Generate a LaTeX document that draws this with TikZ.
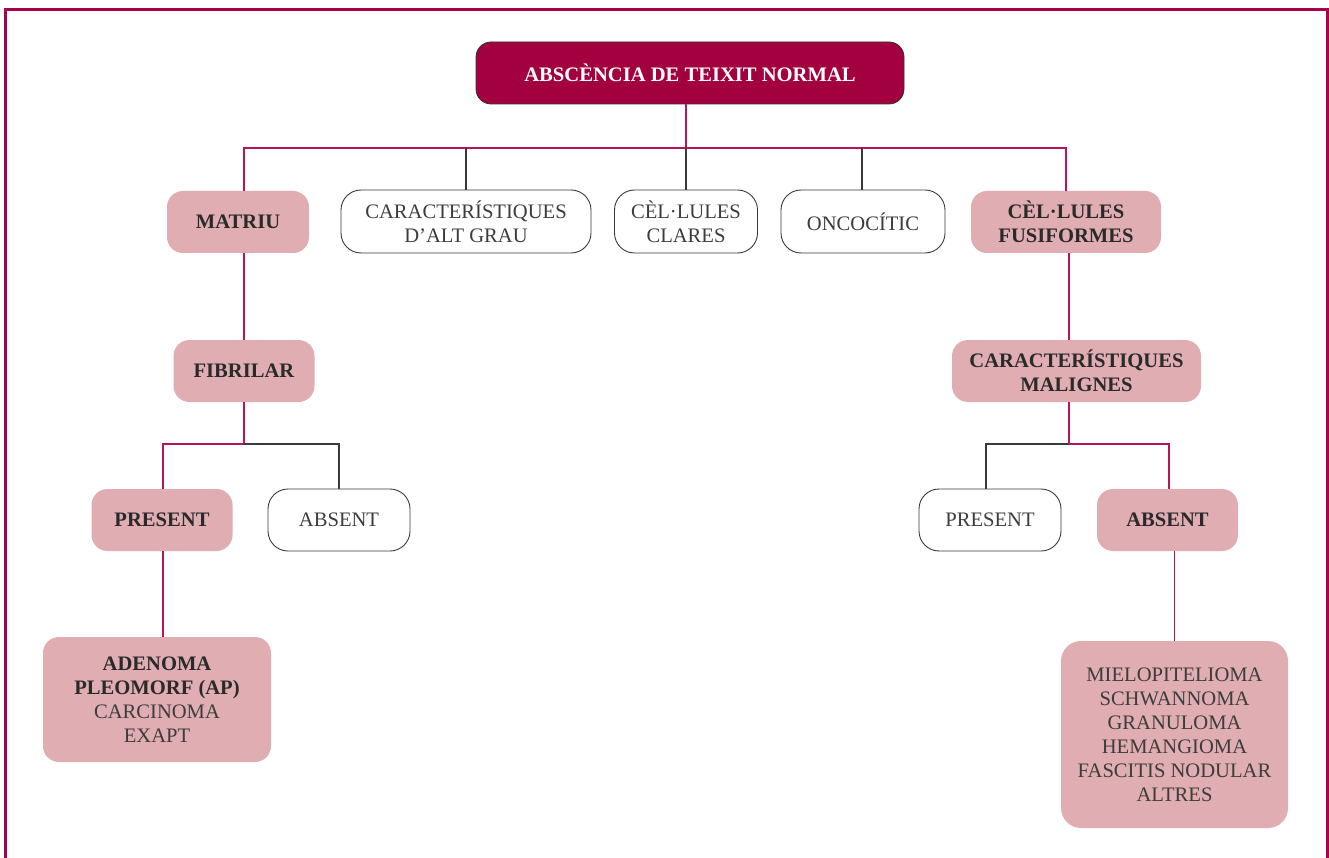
\documentclass[tikz,border=0pt]{standalone}
\usepackage{fontspec}
\setmainfont{Liberation Serif}
\definecolor{crimson}{HTML}{A3003F}
\definecolor{framec}{HTML}{A8004A}
\definecolor{rosefill}{HTML}{E0ADB2}
\definecolor{pinkline}{HTML}{B8145A}
\definecolor{greyline}{HTML}{3A3A3A}
\definecolor{txt}{HTML}{2A2A2A}
\definecolor{txtlight}{HTML}{3C3C3C}
\tikzset{
  base/.style={inner sep=0pt, align=center, font=\fontsize{20.6}{24}\selectfont},
  headbox/.style={base, rounded corners=15pt, fill=crimson, draw=black!80, line width=0.8pt, text=white, font=\fontsize{20.6}{24}\selectfont\bfseries},
  rosebox/.style={base, rounded corners=16pt, fill=rosefill, text=txt, font=\fontsize{20.6}{24}\selectfont\bfseries},
  listbox/.style={base, rounded corners=20pt, fill=rosefill, text=txtlight},
  whitebox/.style={base, rounded corners=20pt, fill=white, draw=greyline, line width=0.9pt, text=txtlight},
  pk/.style={draw=pinkline, line width=1.1pt},
  gy/.style={draw=greyline, line width=1.1pt},
}
\begin{document}
\begin{tikzpicture}[x=1pt,y=-1pt]
\useasboundingbox (0,0) rectangle (1329,858);
% frame
\draw[framec, line width=2.6pt] (5.5,860) -- (5.5,9.5) -- (1327.5,9.5) -- (1327.5,860);
% nodes
\node[headbox, minimum width=428, minimum height=62] (top) at (690,73) {ABSCÈNCIA DE TEIXIT NORMAL};
\node[rosebox, minimum width=142, minimum height=62] (matriu) at (238,222) {MATRIU};
\node[whitebox, minimum width=250, minimum height=63] (alt) at (466,221.5) {CARACTERÍSTIQUES\\D’ALT GRAU};
\node[whitebox, minimum width=143, minimum height=63] (clares) at (686,221.5) {CÈL·LULES\\CLARES};
\node[whitebox, minimum width=164, minimum height=63] (onco) at (863,221.5) {ONCOCÍTIC};
\node[rosebox, minimum width=190, minimum height=62] (fusi) at (1066,222) {CÈL·LULES\\FUSIFORMES};
\node[rosebox, minimum width=141, minimum height=62] (fibrilar) at (244,371) {FIBRILAR};
\node[rosebox, minimum width=249, minimum height=62] (malignes) at (1076.5,371) {CARACTERÍSTIQUES\\MALIGNES};
\node[rosebox, minimum width=141, minimum height=62] (presL) at (162,520) {PRESENT};
\node[whitebox, minimum width=142, minimum height=62] (absL) at (339,520) {ABSENT};
\node[whitebox, minimum width=142, minimum height=62] (presR) at (990,520) {PRESENT};
\node[rosebox, minimum width=141, minimum height=62] (absR) at (1167.5,520) {ABSENT};
\node[rosebox, minimum width=228, minimum height=125] (adenoma) at (157,699.5) {ADENOMA\\PLEOMORF (AP)\\\mdseries\color{txtlight}CARCINOMA\\\mdseries\color{txtlight}EXAPT};
\node[listbox, minimum width=227, minimum height=187] (list) at (1174.5,734.5) {MIELOPITELIOMA\\SCHWANNOMA\\GRANULOMA\\HEMANGIOMA\\FASCITIS NODULAR\\ALTRES};
% connectors
\coordinate (bar) at (686,148);
\coordinate (fbL) at (244,444);
\coordinate (fbR) at (1069,444);
\draw[pk] (top.south -| bar) -- (bar);
\draw[pk] ([xshift=6pt]matriu.north) |- (bar) -| (fusi.north);
\draw[gy] (alt.north) -- (alt.north |- bar);
\draw[gy] (clares.north) -- (clares.north |- bar);
\draw[gy] ([xshift=-1pt]onco.north) -- ([xshift=-1pt]onco.north |- bar);
\draw[pk] (fibrilar.north) -- (fibrilar.north |- matriu.south);
\draw[pk] (fibrilar.south) -- (fbL) -| ([xshift=1pt]presL.north);
\draw[gy] (fbL) -| (absL.north);
\draw[pk] ([xshift=3pt]fusi.south) -- ([xshift=3pt]fusi.south |- malignes.north);
\draw[pk] (malignes.south -| fbR) -- (fbR) -| ([xshift=1.5pt]absR.north);
\draw[gy] (fbR) -| ([xshift=-4pt]presR.north);
\draw[pk] ([xshift=1pt]presL.south) -- ([xshift=1pt]presL.south |- adenoma.north);
\draw[pk] (list.north) -- (list.north |- absR.south);
\end{tikzpicture}
\end{document}
